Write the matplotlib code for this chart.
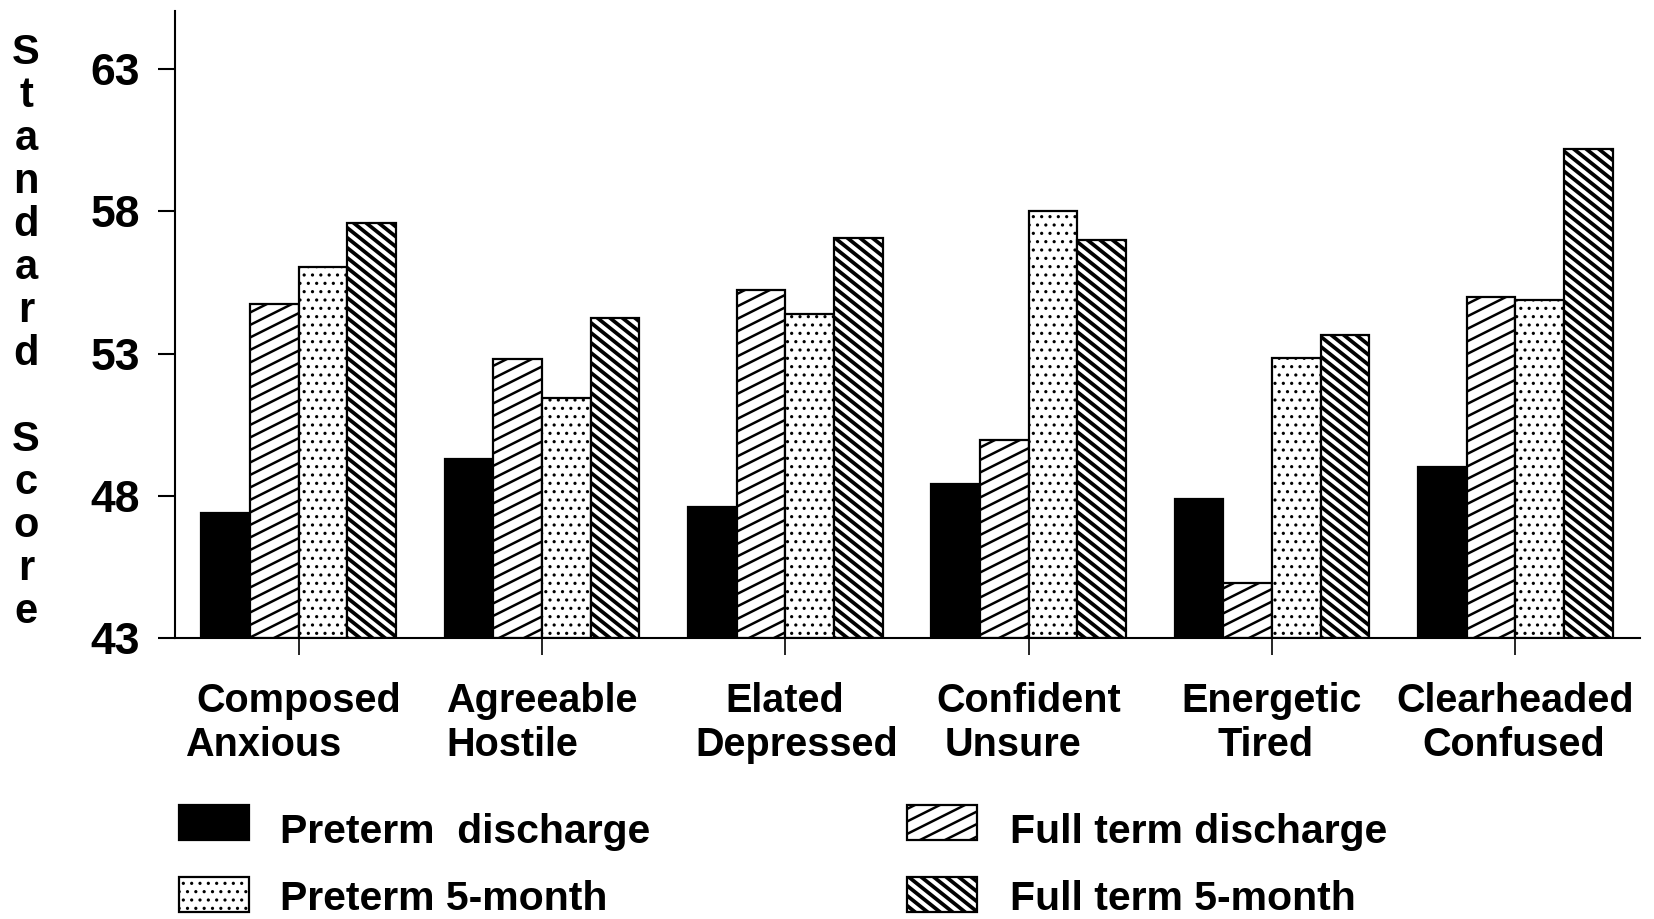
import numpy as np
import matplotlib
matplotlib.use("Agg")
import matplotlib.pyplot as plt
import matplotlib.hatch as mhatch
from matplotlib.path import Path
from matplotlib.patches import Rectangle
from matplotlib import font_manager as fm

# ---------------- data ----------------
categories_top = ["Composed", "Agreeable", "Elated", "Confident", "Energetic", "Clearheaded"]
categories_bottom = ["Anxious", "Hostile", "Depressed", "Unsure", "Tired", "Confused"]
series_names = ["Preterm  discharge", "Full term discharge", "Preterm 5-month", "Full term 5-month"]
preterm_discharge = [47.4, 49.3, 47.6, 48.4, 47.9, 49.0]
fullterm_discharge = [54.75, 52.8, 55.25, 49.95, 44.95, 55.0]
preterm_5month = [56.05, 51.45, 54.4, 58.0, 52.85, 54.9]
fullterm_5month = [57.6, 54.25, 57.05, 57.0, 53.65, 60.2]
yticks = [43, 48, 53, 58, 63]
ylabel_text = "Standard Score"

# ---------------- custom hatch geometry (shallow '/', slanted '\') ----------------
def _ne_init(self, hatch, density):
    self.num_lines = hatch.count('/') * 8
    self.num_vertices = (self.num_lines * 3 // 2 + 1) * 2 if self.num_lines else 0

def _ne_set(self, vertices, codes):
    n = self.num_lines
    c = np.arange(-n // 2, n + 1) / n
    vertices[0::2, 0] = 0.0
    vertices[0::2, 1] = c
    vertices[1::2, 0] = 1.0
    vertices[1::2, 1] = c + 0.5
    codes[0::2] = Path.MOVETO
    codes[1::2] = Path.LINETO

def _se_init(self, hatch, density):
    self.num_lines = hatch.count('\\') * 10
    self.num_vertices = (int(round(self.num_lines * 1.8)) + 1) * 2 if self.num_lines else 0

def _se_set(self, vertices, codes):
    n = self.num_lines
    c = np.arange(0, int(round(n * 1.8)) + 1) / n
    vertices[0::2, 0] = 0.0
    vertices[0::2, 1] = c
    vertices[1::2, 0] = 1.0
    vertices[1::2, 1] = c - 0.8
    codes[0::2] = Path.MOVETO
    codes[1::2] = Path.LINETO

mhatch.NorthEastHatch.__init__ = _ne_init
mhatch.NorthEastHatch.set_vertices_and_codes = _ne_set
mhatch.SouthEastHatch.__init__ = _se_init
mhatch.SouthEastHatch.set_vertices_and_codes = _se_set

# ---------------- fonts ----------------
def pick(fams):
    for f in fams:
        try:
            fm.findfont(fm.FontProperties(family=f), fallback_to_default=False)
            return f
        except Exception:
            pass
    return "DejaVu Sans"

regular = pick(["Liberation Sans", "DejaVu Sans"])
plt.rcParams["font.family"] = [regular, "DejaVu Sans"]
plt.rcParams["hatch.color"] = "black"
plt.rcParams["hatch.linewidth"] = 1.6

W, H = 1654, 919
fig = plt.figure(figsize=(W / 100, H / 100), dpi=100)
ax_left, ax_right, ax_bottom, ax_top = 175, 1640, 638, 11
ax = fig.add_axes([ax_left / W, 1 - ax_bottom / H, (ax_right - ax_left) / W, (ax_bottom - ax_top) / H])

styles = [
    dict(facecolor="black", hatch=None, hlw=1.0),
    dict(facecolor="white", hatch="/", hlw=1.8),
    dict(facecolor="white", hatch="..", hlw=1.1),
    dict(facecolor="white", hatch="\\", hlw=2.7),
]
series = [preterm_discharge, fullterm_discharge, preterm_5month, fullterm_5month]

base = yticks[0]
x = np.arange(len(categories_top))
bw = 0.2
offsets = [-1.5, -0.5, 0.5, 1.5]

def style_patch(p, st):
    if hasattr(p, "set_hatch_linewidth"):
        p.set_hatch_linewidth(st["hlw"])

for vals, off, st in zip(series, offsets, styles):
    bars = ax.bar(x + off * bw, np.array(vals) - base, bw, bottom=base,
                  facecolor=st["facecolor"], edgecolor="black", linewidth=1.6,
                  hatch=st["hatch"], zorder=2)
    for b in bars:
        style_patch(b, st)

ax.set_xlim(-0.508, 5.513)
ax.set_ylim(43, 65.05)
ax.spines["top"].set_visible(False)
ax.spines["right"].set_visible(False)
ax.spines["left"].set_linewidth(1.5)
ax.spines["bottom"].set_linewidth(1.5)
ax.set_yticks(yticks)
ax.set_yticklabels([str(v) for v in yticks], fontsize=32, fontweight="bold", family=regular)
ax.tick_params(axis="y", direction="out", length=12, width=1.5, pad=13)
ax.set_xticks(x)
ax.set_xticklabels([""] * len(x))
ax.tick_params(axis="x", direction="out", length=12, width=1.2)

# category labels (two lines)
line2_offsets = [-0.144, -0.121, 0.048, -0.064, -0.025, -0.006]
span = ax_bottom - ax_top
lab_kw = dict(fontsize=28.5, fontweight="bold", family=regular, ha="center", va="baseline",
              transform=ax.get_xaxis_transform(), clip_on=False)
for i, (t, b) in enumerate(zip(categories_top, categories_bottom)):
    ax.text(x[i], -(712 - ax_bottom) / span, t, **lab_kw)
    ax.text(x[i] + line2_offsets[i], -(756 - ax_bottom) / span, b, **lab_kw)

# vertical y label (stacked letters)
for i, ch in enumerate(ylabel_text):
    if ch == " ":
        continue
    yc = 52.7 + 43.0 * i
    fig.text(26 / W, 1 - yc / H, ch, fontsize=30, fontweight="bold", family=regular,
             ha="center", va="center")

# legend (drawn as a 2x2 key below the axes)
legend_cells = [
    (0, 179, 822, 280, 843),
    (2, 179, 894, 280, 910),
    (1, 907, 822, 1010, 843),
    (3, 907, 894, 1010, 910),
]
pw, ph = 70, 35
for si, px, pyc, tx, tyb in legend_cells:
    st = styles[si]
    r = Rectangle((px / W, 1 - (pyc + ph / 2) / H), pw / W, ph / H,
                  transform=fig.transFigure, facecolor=st["facecolor"], edgecolor="black",
                  linewidth=1.6, hatch=st["hatch"])
    style_patch(r, st)
    fig.add_artist(r)
    fig.text(tx / W, 1 - tyb / H, series_names[si], fontsize=29.5, fontweight="bold",
             family=regular, ha="left", va="baseline")

fig.savefig("out.png", dpi=100)
